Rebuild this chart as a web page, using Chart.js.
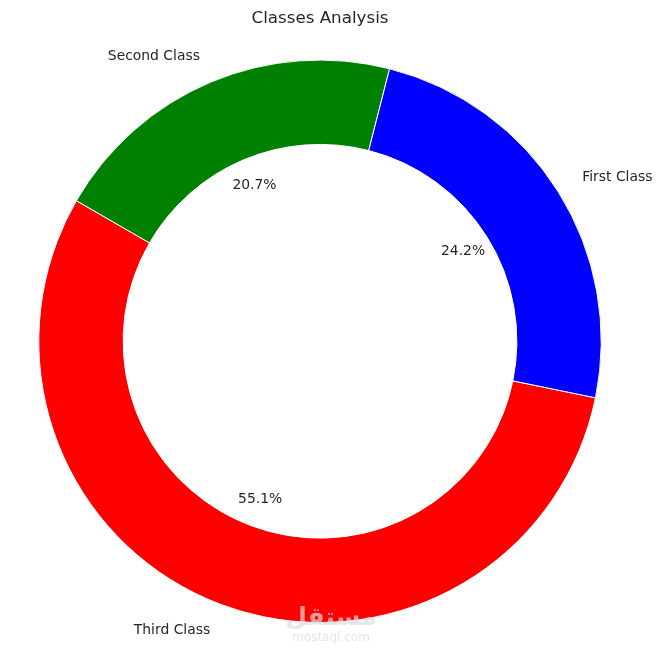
<!DOCTYPE html>
<html>
<head>
<meta charset="utf-8">
<script src="https://cdn.jsdelivr.net/npm/chart.js@4.4.1/dist/chart.umd.min.js"></script>
<style>
  html, body { margin: 0; padding: 0; background: #fff; }
  #wrap { width: 662px; height: 658px; position: relative; }
</style>
</head>
<body>
<div id="wrap"><canvas id="classes-chart" width="662" height="658"></canvas></div>
<script>
// données
const categories = ['First Class', 'Second Class', 'Third Class'];
const passengerCounts = [216, 184, 491];
const sliceColors = ['#0000ff', '#008000', '#ff0000'];

// matplotlib tourne dans le sens anti-horaire, Chart.js dans le sens horaire -> on inverse
const labels = categories.slice().reverse();
const values = passengerCounts.slice().reverse();
const colors = sliceColors.slice().reverse();

const FONT = '"DejaVu Sans", sans-serif';
const TEXT_COLOR = '#262626';

// labels extérieurs + pourcentages, placés à partir des arcs du graphique
const pieLabels = {
    id: 'pieLabels',
    afterDatasetsDraw(chart) {
        const ctx = chart.ctx;
        const meta = chart.getDatasetMeta(0);
        const total = values.reduce((a, b) => a + b, 0);
        ctx.save();
        ctx.fillStyle = TEXT_COLOR;
        ctx.font = '13.9px ' + FONT;
        ctx.textBaseline = 'middle';
        meta.data.forEach((arc, i) => {
            const p = arc.getProps(['x', 'y', 'startAngle', 'endAngle', 'outerRadius'], true);
            const mid = (p.startAngle + p.endAngle) / 2;
            const cx = Math.cos(mid), cy = Math.sin(mid);
            // nom de la classe
            const lx = p.x + cx * p.outerRadius * 1.1;
            const ly = p.y + cy * p.outerRadius * 1.1;
            ctx.textAlign = cx > 0 ? 'left' : 'right';
            ctx.fillText(labels[i], lx, ly);
            // pourcentage
            const pct = (values[i] / total * 100).toFixed(1) + '%';
            ctx.textAlign = 'center';
            ctx.fillText(pct, p.x + cx * p.outerRadius * 0.6, p.y + cy * p.outerRadius * 0.6);
        });
        // filigrane
        ctx.fillStyle = 'rgba(220, 220, 220, 0.7)';
        ctx.textAlign = 'center';
        ctx.font = 'bold 25px ' + FONT;
        ctx.fillText('مستقل', 331, 618);
        ctx.font = '12px ' + FONT;
        ctx.fillText('mostaql.com', 331, 638);
        ctx.restore();
    }
};

const ctx = document.getElementById('classes-chart').getContext('2d');
window.classesChart = new Chart(ctx, {
    type: 'doughnut',
    data: {
        labels: labels,
        datasets: [{
            data: values,
            backgroundColor: colors,
            borderColor: '#ffffff',
            borderWidth: 1
        }]
    },
    options: {
        responsive: false,
        animation: false,
        cutout: '70%',
        rotation: 101.6,
        layout: {
            padding: { left: 38, right: 60, top: 0, bottom: 35 }
        },
        plugins: {
            legend: { display: false },
            tooltip: { enabled: false },
            title: {
                display: true,
                text: 'Classes Analysis',
                color: TEXT_COLOR,
                font: { family: FONT, size: 16.7, weight: 'normal', lineHeight: 1.2 },
                padding: { top: 8.5, bottom: 31 }
            }
        }
    },
    plugins: [pieLabels]
});
</script>
</body>
</html>
